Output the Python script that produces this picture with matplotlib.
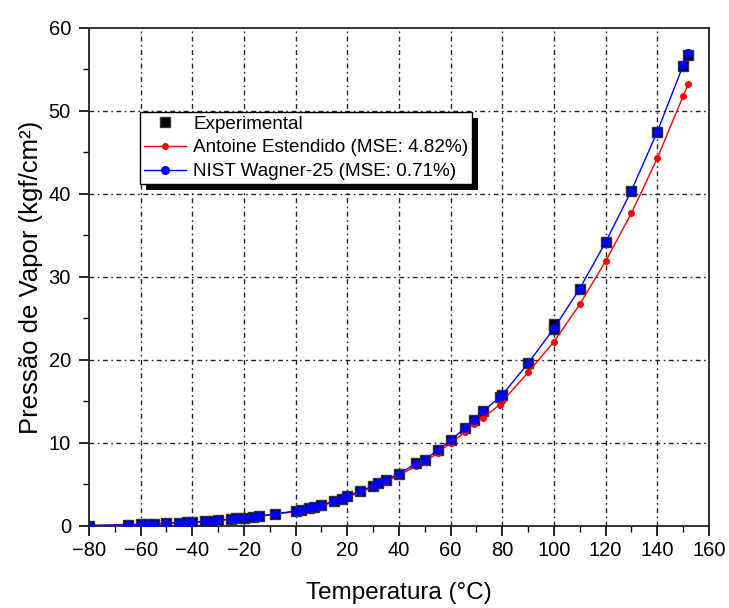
import matplotlib
matplotlib.use("Agg")
import matplotlib.pyplot as plt
from matplotlib.ticker import MultipleLocator
from matplotlib.patches import Rectangle

plt.rcParams['font.family'] = ['Liberation Sans', 'DejaVu Sans']

# Experimental data
T_exp = [-80, -65, -60, -57, -55, -50, -45, -42, -40, -35, -32, -30, -25, -23, -20,
         -16.5, -14, -8, 0, 2, 5, 7, 10, 15, 18, 20, 25, 30, 32, 35, 40, 46.6, 50,
         55, 60, 65.6, 69, 72.5, 79, 80, 90, 100, 100, 110, 120, 130, 140, 150, 152]
P_exp = [0.05, 0.15, 0.2, 0.22, 0.25, 0.3, 0.38, 0.42, 0.45, 0.55, 0.6, 0.7, 0.8, 0.9, 0.95,
         1.1, 1.2, 1.45, 1.8, 1.9, 2.2, 2.3, 2.5, 3.0, 3.3, 3.6, 4.2, 4.8, 5.2, 5.5, 6.3, 7.6, 8.0,
         9.1, 10.3, 11.8, 12.8, 13.8, 15.5, 15.8, 19.6, 23.7, 24.3, 28.6, 34.2, 40.4, 47.5, 55.4, 56.8]

# Model temperatures
T_mod = [-80, -65, -60, -57, -55, -50, -45, -42, -40, -35, -32, -30, -25, -23, -20,
         -16.5, -14, -8, 0, 2, 5, 7, 10, 15, 18, 20, 25, 30, 32, 35, 40, 46.6, 50,
         55, 60, 65.6, 69, 72.5, 79, 80, 90, 100, 110, 120, 130, 140, 150, 152]
P_antoine = [0.04, 0.14, 0.18, 0.21, 0.24, 0.29, 0.36, 0.4, 0.43, 0.53, 0.58, 0.67, 0.77, 0.86, 0.92,
             1.05, 1.15, 1.4, 1.72, 1.82, 2.1, 2.2, 2.4, 2.9, 3.2, 3.45, 4.05, 4.65, 5.0, 5.35, 6.1, 7.2, 7.7,
             8.8, 10.0, 11.3, 12.3, 13.0, 14.6, 15.0, 18.5, 22.2, 26.7, 31.9, 37.7, 44.3, 51.8, 53.2]
P_nist = [0.05, 0.15, 0.2, 0.22, 0.25, 0.3, 0.38, 0.42, 0.45, 0.55, 0.6, 0.7, 0.8, 0.9, 0.95,
          1.1, 1.2, 1.45, 1.8, 1.9, 2.2, 2.3, 2.5, 3.0, 3.3, 3.6, 4.2, 4.8, 5.2, 5.5, 6.3, 7.5, 8.0,
          9.1, 10.3, 11.8, 12.8, 13.8, 15.5, 15.8, 19.6, 23.8, 28.6, 34.2, 40.4, 47.5, 55.5, 57.0]

fig = plt.figure(figsize=(7.29, 6.08), dpi=100)
ax = fig.add_axes([0.122, 0.135, 0.8505, 0.819])

grid_ls = (0, (3.5, 2.5, 1.2, 2.5))
for xv in range(-60, 160, 20):
    ax.axvline(xv, color='#222222', lw=1.0, ls=grid_ls, zorder=0)
for yv in range(10, 60, 10):
    ax.axhline(yv, color='#222222', lw=1.0, ls=grid_ls, zorder=0)

ax.plot(T_exp, P_exp, ls='none', marker='s', ms=7.5, color='black', mec='#333333',
        label='Experimental', zorder=2)
ax.plot(T_mod, P_antoine, color='red', lw=1.0, marker='o', ms=4, label='Antoine Estendido (MSE: 4.82%)',
        zorder=3)
ax.plot(T_mod, P_nist, color='blue', lw=1.0, marker='o', ms=5.5, label='NIST Wagner-25 (MSE: 0.71%)',
        zorder=4)

ax.set_xlim(-80, 160)
ax.set_ylim(0, 60)
ax.xaxis.set_major_locator(MultipleLocator(20))
ax.xaxis.set_minor_locator(MultipleLocator(10))
ax.yaxis.set_major_locator(MultipleLocator(10))
ax.yaxis.set_minor_locator(MultipleLocator(5))
ax.tick_params(which='major', direction='out', length=7, width=1.2, labelsize=14.5, colors='black', pad=4)
ax.tick_params(axis='y', which='major', pad=6)
ax.tick_params(which='minor', direction='out', length=4, width=1.0)
for s in ax.spines.values():
    s.set_linewidth(1.3)
    s.set_color('#222222')

ax.set_xlabel('Temperatura (°C)', fontsize=17.5, labelpad=16)
ax.set_ylabel('Pressão de Vapor (kgf/cm²)', fontsize=18.5, labelpad=4)

leg = ax.legend(loc='upper left', bbox_to_anchor=(0.083, 0.832), fontsize=13.6, frameon=True,
                fancybox=False, edgecolor='black', framealpha=1, handlelength=2.2,
                borderpad=0.2, labelspacing=0.35, handletextpad=0.4, borderaxespad=0)
leg.get_frame().set_linewidth(1.0)
leg.set_zorder(11)

fig.canvas.draw()
bb = leg.get_window_extent().transformed(fig.transFigure.inverted())
dx, dy = 6 / 729, 6 / 608
shadow = Rectangle((bb.x0 + dx, bb.y0 - dy), bb.width, bb.height,
                   transform=fig.transFigure, facecolor='black', edgecolor='none',
                   zorder=10, clip_on=False)
ax.add_artist(shadow)
fig.savefig('out.png', dpi=100)
